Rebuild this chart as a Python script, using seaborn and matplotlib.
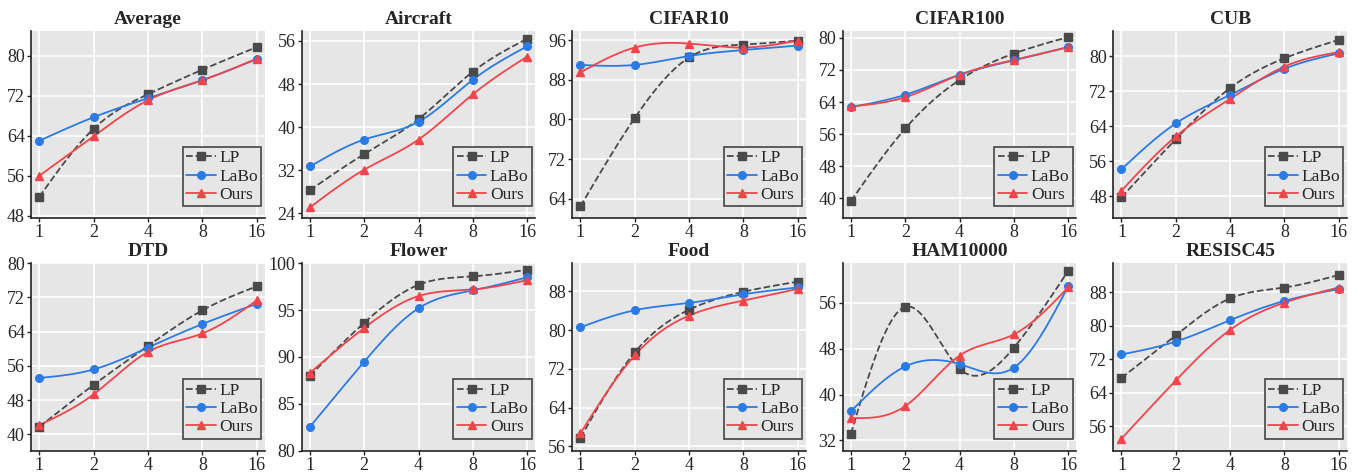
import numpy as np
import pandas as pd
import matplotlib
matplotlib.use("Agg")
import matplotlib.pyplot as plt
from matplotlib import font_manager
import seaborn as sns

shots = [1, 2, 4, 8, 16]
datasets = ["Average", "Aircraft", "CIFAR10", "CIFAR100", "CUB",
            "DTD", "Flower", "Food", "HAM10000", "RESISC45"]

lp = {
    "Average":  [51.8, 65.4, 72.3, 77.2, 81.7],
    "Aircraft": [28.3, 35.0, 41.5, 50.3, 56.4],
    "CIFAR10":  [62.5, 80.3, 92.5, 95.1, 95.9],
    "CIFAR100": [39.3, 57.4, 69.5, 76.1, 80.2],
    "CUB":      [47.8, 61.1, 72.8, 79.6, 83.8],
    "DTD":      [41.8, 51.6, 60.7, 69.0, 74.6],
    "Flower":   [88.0, 93.65, 97.7, 98.6, 99.3],
    "Food":     [57.8, 75.4, 84.2, 87.9, 90.0],
    "HAM10000": [33.2, 55.3, 44.5, 48.2, 61.6],
    "RESISC45": [67.5, 77.7, 86.5, 89.1, 92.1],
}
labo = {
    "Average":  [63.0, 67.7, 71.5, 75.1, 79.3],
    "Aircraft": [32.7, 37.7, 41.0, 48.8, 55.0],
    "CIFAR10":  [91.0, 91.0, 92.8, 94.0, 94.9],
    "CIFAR100": [62.75, 65.8, 70.8, 74.4, 77.7],
    "CUB":      [54.2, 64.7, 71.2, 77.2, 80.7],
    "DTD":      [53.2, 55.2, 60.3, 65.8, 70.5],
    "Flower":   [82.55, 89.5, 95.2, 97.1, 98.5],
    "Food":     [80.6, 84.1, 85.6, 87.4, 88.8],
    "HAM10000": [37.1, 44.9, 45.3, 44.7, 58.9],
    "RESISC45": [73.1, 76.2, 81.3, 85.9, 88.7],
}
ours = {
    "Average":  [56.0, 63.9, 71.1, 75.1, 79.4],
    "Aircraft": [25.1, 32.1, 37.7, 46.1, 53.1],
    "CIFAR10":  [89.5, 94.5, 95.3, 94.5, 95.9],
    "CIFAR100": [62.9, 65.2, 70.8, 74.5, 77.7],
    "CUB":      [49.3, 61.7, 70.3, 77.7, 81.0],
    "DTD":      [42.2, 49.4, 59.3, 63.6, 71.3],
    "Flower":   [88.3, 93.1, 96.5, 97.2, 98.2],
    "Food":     [58.7, 74.8, 83.0, 86.1, 88.5],
    "HAM10000": [35.9, 38.0, 46.8, 50.5, 58.7],
    "RESISC45": [53.0, 66.9, 79.0, 85.5, 89.1],
}

ylims = {
    "Average": (47.5, 85.0), "Aircraft": (23.1, 57.9), "CIFAR10": (60.1, 97.9),
    "CIFAR100": (35.0, 81.8), "CUB": (43.0, 85.9), "DTD": (36.2, 80.0),
    "Flower": (80.0, 100.0), "Food": (55.1, 93.8), "HAM10000": (30.2, 62.9),
    "RESISC45": (50.1, 94.9),
}
yticks = {
    "Average": [48, 56, 64, 72, 80], "Aircraft": [24, 32, 40, 48, 56],
    "CIFAR10": [64, 72, 80, 88, 96], "CIFAR100": [40, 48, 56, 64, 72, 80],
    "CUB": [48, 56, 64, 72, 80], "DTD": [40, 48, 56, 64, 72, 80],
    "Flower": [80, 85, 90, 95, 100], "Food": [56, 64, 72, 80, 88],
    "HAM10000": [32, 40, 48, 56], "RESISC45": [56, 64, 72, 80, 88],
}


def smooth(y, n=60):
    # natural cubic spline on unit spaced points
    y = np.asarray(y, float)
    k = len(y)
    A = np.zeros((k, k))
    r = np.zeros(k)
    A[0, 0] = 1
    A[-1, -1] = 1
    for i in range(1, k - 1):
        A[i, i - 1:i + 2] = [1, 4, 1]
        r[i] = 6 * (y[i + 1] - 2 * y[i] + y[i - 1])
    M = np.linalg.solve(A, r)
    xs, ys = [], []
    for i in range(k - 1):
        t = np.linspace(0, 1, n, endpoint=(i == k - 2))
        b = (y[i + 1] - y[i]) - (2 * M[i] + M[i + 1]) / 6
        xs.append(i + t)
        ys.append(y[i] + b * t + M[i] / 2 * t ** 2 + (M[i + 1] - M[i]) / 6 * t ** 3)
    return np.concatenate(xs), np.concatenate(ys)


sns.set_theme(style="darkgrid")
names = {f.name for f in font_manager.fontManager.ttflist}
serif = [f for f in ["Liberation Serif", "Times New Roman", "DejaVu Serif"] if f in names]
plt.rcParams["font.family"] = "serif"
plt.rcParams["font.serif"] = serif + ["DejaVu Serif"]
plt.rcParams["axes.facecolor"] = "#e6e6e6"
plt.rcParams["grid.color"] = "white"
plt.rcParams["grid.linewidth"] = 1.2

styles = [
    ("LP", lp, "#4a4a4a", "s", "--"),
    ("LaBo", labo, "#2b7be4", "o", "-"),
    ("Ours", ours, "#f2444b", "^", "-"),
]

fig, axes = plt.subplots(2, 5, figsize=(13.57, 4.72), dpi=100)
fig.subplots_adjust(left=0.023, right=0.9926, top=0.935, bottom=0.045,
                    wspace=0.158, hspace=0.24)

pos = np.arange(len(shots))
for ax, name in zip(axes.flatten(), datasets):
    for label, src, color, marker, ls in styles:
        sx, sy = smooth(src[name])
        curve = pd.DataFrame({"x": sx, "y": sy})
        sns.lineplot(data=curve, x="x", y="y", ax=ax, color=color,
                     linestyle=ls, linewidth=1.3, zorder=3)
        ax.plot(pos, src[name], linestyle="none", marker=marker, color=color,
                markersize=5.5, zorder=4)
        ax.plot([], [], linestyle=ls, marker=marker, color=color,
                markersize=5.5, linewidth=1.3, label=label)
    ax.set_title(name, fontsize=14, fontweight="bold", pad=5)
    ax.set_xticks(pos)
    ax.set_xticklabels([str(s) for s in shots])
    ax.set_xlim(-0.15, 4.15)
    ax.set_ylim(*ylims[name])
    ax.set_yticks(yticks[name])
    ax.set_xlabel("")
    ax.set_ylabel("")
    ax.tick_params(axis="both", labelsize=13, length=3, width=1,
                   color="#222222", pad=1.5, direction="out")
    ax.tick_params(axis="x", bottom=True)
    ax.tick_params(axis="y", left=True)
    for side in ["top", "right"]:
        ax.spines[side].set_visible(False)
    for side in ["left", "bottom"]:
        ax.spines[side].set_visible(True)
        ax.spines[side].set_color("#222222")
        ax.spines[side].set_linewidth(1.2)
    leg = ax.legend(loc="lower right", bbox_to_anchor=(1.0, 0.045),
                    fontsize=12.5, fancybox=False,
                    framealpha=1, facecolor="#e6e6e6", edgecolor="#444444",
                    borderpad=0.2, labelspacing=0.12, handlelength=1.7,
                    handletextpad=0.2, borderaxespad=0.2)
    leg.get_frame().set_linewidth(1.2)

fig.savefig("out.png", dpi=100)
